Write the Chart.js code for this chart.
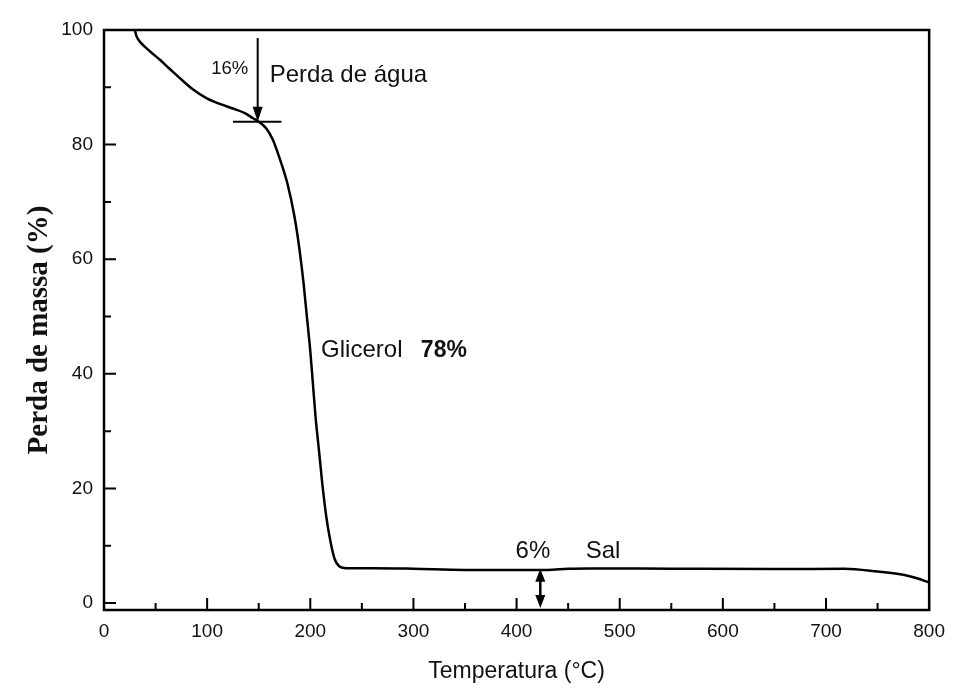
<!DOCTYPE html>
<html>
<head>
<meta charset="utf-8">
<script src="https://cdn.jsdelivr.net/npm/chart.js@4.4.1/dist/chart.umd.min.js"></script>
<style>
  html, body { margin: 0; padding: 0; background: #fff; }
  #wrap { width: 955px; height: 688px; position: relative; }
</style>
</head>
<body>
<div id="wrap"><canvas id="c"></canvas></div>
<script>
// TGA curve: temperature (°C) and mass (%)
const temperatura = [30, 31, 33, 36, 40, 45, 54.2, 63.8, 73.5, 86.4, 99.3, 112.2, 125.1, 136.5, 144.5, 150, 157.4, 163.8, 169.7, 177.7, 184.7, 189.6, 193.5, 196.7, 199.9, 202.5, 205.1, 208.4, 211.6, 215.5, 219.3, 223.4, 228.3, 234.8, 260, 300, 350, 400, 430, 450, 470, 550, 650, 718, 750, 776, 789, 800];
const massa = [100, 99.2, 98.4, 97.7, 97.0, 96.2, 94.8, 93.2, 91.6, 89.6, 88.1, 87.1, 86.3, 85.5, 84.6, 84.0, 82.8, 80.8, 77.9, 73.3, 67.4, 61.6, 55.8, 50.0, 44.2, 38.4, 32.5, 26.7, 20.9, 15.1, 11.0, 7.8, 6.4, 6.1, 6.1, 6.0, 5.8, 5.8, 5.8, 6.0, 6.05, 6.0, 5.95, 6.0, 5.5, 4.9, 4.3, 3.6];

const xTicks = [0, 100, 200, 300, 400, 500, 600, 700, 800];
const yTicks = [0, 20, 40, 60, 80, 100];

// Step losses marked on the curve
const perdaAgua = { temp: 149, topo: 98.6, fim: 84.0, tracoIni: 125, tracoFim: 172 };
const residuoSal = { temp: 423, valor: 6 };

const SANS = '"Liberation Sans", Arial, Helvetica, sans-serif';
const SERIF = '"Liberation Serif", "Times New Roman", serif';

const etiquetas = [
  { text: '16%', x: 104, y: 92.3, font: '18.5px ' + SANS },
  { text: 'Perda de água', x: 160.6, y: 90.9, font: '24px ' + SANS },
  { text: 'Glicerol', x: 210.5, y: 42.9, font: '24px ' + SANS },
  { text: '78%', x: 307.2, y: 42.9, font: 'bold 23px ' + SANS },
  { text: '6%', x: 399, y: 7.9, font: '24px ' + SANS },
  { text: 'Sal', x: 467, y: 7.9, font: '24px ' + SANS }
];

function seta(ctx, x, y, dir, len, half) {
  ctx.beginPath();
  ctx.moveTo(x, y);
  ctx.lineTo(x - half, y - dir * len);
  ctx.lineTo(x + half, y - dir * len);
  ctx.closePath();
  ctx.fill();
}

const molduraPlugin = {
  id: 'moldura',
  afterDraw(chart) {
    const { ctx, chartArea: a, scales: { x, y } } = chart;
    ctx.save();
    ctx.strokeStyle = '#000';
    ctx.fillStyle = '#000';

    // frame
    ctx.lineWidth = 2.5;
    ctx.strokeRect(a.left, a.top, a.right - a.left, a.bottom - a.top);

    // inward ticks, major and minor
    ctx.lineWidth = 2;
    ctx.beginPath();
    for (let v = 0; v <= 800; v += 50) {
      const px = x.getPixelForValue(v);
      const len = (v % 100 === 0) ? 12 : 7;
      ctx.moveTo(px, a.bottom);
      ctx.lineTo(px, a.bottom - len);
    }
    for (let v = 0; v <= 100; v += 10) {
      const py = y.getPixelForValue(v);
      const len = (v % 20 === 0) ? 12 : 7;
      ctx.moveTo(a.left, py);
      ctx.lineTo(a.left + len, py);
    }
    ctx.stroke();

    // water loss arrow and step marker
    const ax = x.getPixelForValue(perdaAgua.temp);
    const ay0 = y.getPixelForValue(perdaAgua.topo);
    const ay1 = y.getPixelForValue(perdaAgua.fim);
    ctx.lineWidth = 2;
    ctx.beginPath();
    ctx.moveTo(ax, ay0);
    ctx.lineTo(ax, ay1 - 10);
    ctx.stroke();
    seta(ctx, ax, ay1, 1, 15, 5);
    ctx.beginPath();
    ctx.moveTo(x.getPixelForValue(perdaAgua.tracoIni), ay1);
    ctx.lineTo(x.getPixelForValue(perdaAgua.tracoFim), ay1);
    ctx.stroke();

    // residue double arrow
    const sx = x.getPixelForValue(residuoSal.temp);
    const sy0 = y.getPixelForValue(residuoSal.valor);
    const sy1 = a.bottom - 2;
    ctx.lineWidth = 2.5;
    ctx.beginPath();
    ctx.moveTo(sx, sy0 + 8);
    ctx.lineTo(sx, sy1 - 8);
    ctx.stroke();
    seta(ctx, sx, sy0, -1, 13, 5);
    seta(ctx, sx, sy1, 1, 13, 5);

    // annotation texts
    ctx.textAlign = 'left';
    ctx.textBaseline = 'alphabetic';
    ctx.fillStyle = '#111';
    etiquetas.forEach(e => {
      ctx.font = e.font;
      ctx.fillText(e.text, x.getPixelForValue(e.x), y.getPixelForValue(e.y));
    });

    // axis titles
    ctx.textAlign = 'center';
    ctx.textBaseline = 'middle';
    ctx.font = '23px ' + SANS;
    ctx.fillText('Temperatura (°C)', (a.left + a.right) / 2, 672);
    ctx.translate(40, 330);
    ctx.rotate(-Math.PI / 2);
    ctx.font = 'bold 29px ' + SERIF;
    ctx.fillText('Perda de massa (%)', 0, 0);
    ctx.restore();
  }
};

new Chart(document.getElementById('c'), {
  type: 'line',
  data: {
    datasets: [{
      data: temperatura.map((t, i) => ({ x: t, y: massa[i] })),
      borderColor: '#000',
      borderWidth: 2.5,
      pointRadius: 0,
      fill: false,
      cubicInterpolationMode: 'monotone'
    }]
  },
  options: {
    responsive: true,
    maintainAspectRatio: false,
    animation: false,
    events: [],
    layout: { padding: { top: 30, right: 24, left: 0, bottom: 0 } },
    plugins: { legend: { display: false }, tooltip: { enabled: false } },
    scales: {
      x: {
        type: 'linear',
        min: 0,
        max: 800,
        afterBuildTicks: s => { s.ticks = xTicks.map(v => ({ value: v })); },
        afterFit: s => { s.height = 78; },
        grid: { display: false, drawTicks: false },
        border: { display: false },
        ticks: { padding: 10, color: '#111', font: { family: SANS, size: 19 }, maxRotation: 0 }
      },
      y: {
        type: 'linear',
        min: -1.2,
        max: 100,
        afterBuildTicks: s => { s.ticks = yTicks.map(v => ({ value: v })); },
        afterFit: s => { s.width = 104; },
        grid: { display: false, drawTicks: false },
        border: { display: false },
        ticks: { padding: 11, color: '#111', font: { family: SANS, size: 19 } }
      }
    }
  },
  plugins: [molduraPlugin]
});
</script>
</body>
</html>
